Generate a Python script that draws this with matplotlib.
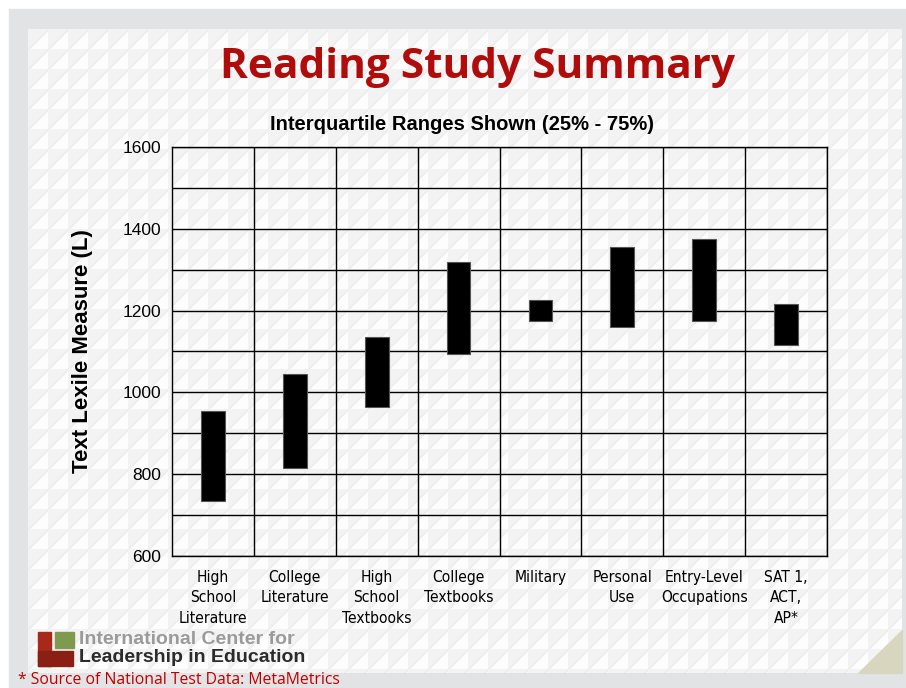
import matplotlib
matplotlib.use("Agg")
import matplotlib.pyplot as plt
from matplotlib.patches import Rectangle, Polygon
from matplotlib import font_manager
import numpy as np

W, H = 906, 688

categories = ["High\nSchool\nLiterature", "College\nLiterature", "High\nSchool\nTextbooks",
              "College\nTextbooks", "Military", "Personal\nUse", "Entry-Level\nOccupations",
              "SAT 1,\nACT,\nAP*"]
q25 = [735, 815, 965, 1095, 1175, 1160, 1175, 1115]
q75 = [955, 1045, 1135, 1320, 1225, 1355, 1375, 1215]
yticks = [600, 800, 1000, 1200, 1400, 1600]

names = {f.name for f in font_manager.fontManager.ttflist}
narrow = "Liberation Sans Narrow" if "Liberation Sans Narrow" in names else "DejaVu Sans"

fig = plt.figure(figsize=(W / 100, H / 100), dpi=100, facecolor="white")

# slide background: grey frame + tiled pattern
bg = fig.add_axes([0, 0, 1, 1])
bg.set_xlim(0, W)
bg.set_ylim(H, 0)
bg.axis("off")
bg.add_patch(Rectangle((9, 9), W - 9, H - 9, color="#e2e3e5", zorder=0))
yy, xx = np.mgrid[0:644, 0:874]
tile = 20
fx = (xx % tile)
fy = (yy % tile)
pat = np.where(fx + fy < tile, 0.955, 0.99)
pat = np.where(np.abs(fx + fy - tile) < 1.2, 0.93, pat)
bg.imshow(pat, cmap="gray", vmin=0, vmax=1, extent=(28, 902, 673, 29), zorder=1,
          interpolation="nearest")
bg.add_patch(Polygon([(858, 673), (902, 673), (902, 630)], color="#d9d6c0", zorder=2))

# logo
bg.add_patch(Rectangle((38, 632), 13, 34, color="#a8281a", zorder=3))
bg.add_patch(Rectangle((38, 651), 35, 15, color="#8a1f14", zorder=3))
bg.add_patch(Rectangle((55, 632), 19, 16, color="#7f9a4e", zorder=3))
bg.text(79, 640, "International Center for", fontsize=14, fontweight="bold",
        color="#9a9a9a", family="Liberation Sans", va="center", zorder=4)
bg.text(79, 658, "Leadership in Education", fontsize=14, fontweight="bold",
        color="#2b2b2b", family="Liberation Sans", va="center", zorder=4)
bg.text(18, 680, "* Source of National Test Data: MetaMetrics", fontsize=11.3,
        color="#c00000", family="Open Sans", va="center", zorder=4)

bg.text(478, 68, "Reading Study Summary", fontsize=30.5, fontweight="bold",
        color="#b00c0c", family="Open Sans", ha="center", va="center", zorder=4)
bg.text(462, 124, "Interquartile Ranges Shown (25% - 75%)", fontsize=14.5,
        fontweight="bold", family="Liberation Sans", ha="center", va="center", zorder=4)

# chart
ax = fig.add_axes([172 / W, 1 - 556 / H, (827 - 172) / W, (556 - 147) / H])
ax.patch.set_alpha(0)
x = np.arange(len(categories))
ax.bar(x, np.array(q75) - np.array(q25), bottom=q25, width=0.29,
       color="black", edgecolor="#555555", linewidth=0.8, zorder=3)
ax.set_xlim(-0.5, len(categories) - 0.5)
ax.set_ylim(600, 1600)
ax.set_yticks(yticks)
ax.set_yticks(np.arange(600, 1601, 100), minor=True)
ax.grid(which="both", axis="y", color="black", linewidth=1, zorder=1)
ax.set_xticks(x + 0.5, minor=True)
ax.grid(which="minor", axis="x", color="black", linewidth=1, zorder=1)
ax.set_xticks(x)
ax.set_xticklabels(categories, family=narrow, fontsize=11.2, linespacing=1.45,
                   va="top", fontstretch="condensed")
ax.tick_params(axis="both", which="both", length=0, pad=10)
ax.tick_params(axis="y", labelsize=12.5, pad=8)
for lbl in ax.get_yticklabels():
    lbl.set_family("Liberation Sans")
for s in ax.spines.values():
    s.set_color("black")
    s.set_linewidth(1)
ax.set_ylabel("Text Lexile Measure (L)", fontsize=16, fontweight="bold",
              family="Liberation Sans", labelpad=21)

fig.savefig("out.png", dpi=100, facecolor="white")
